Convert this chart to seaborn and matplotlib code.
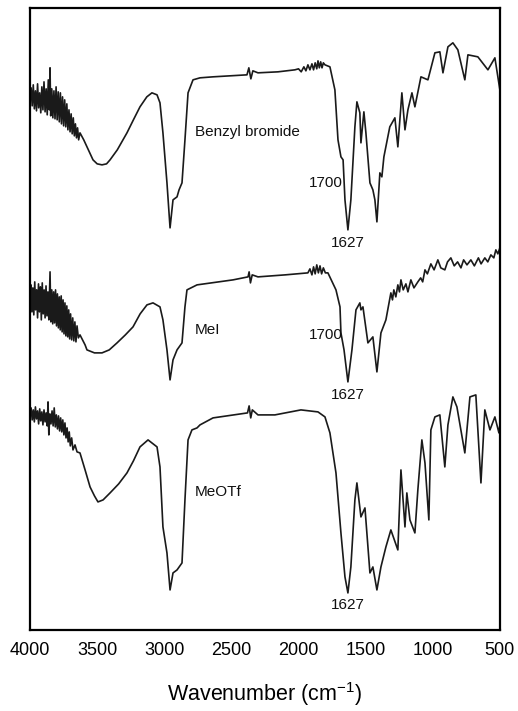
import matplotlib
matplotlib.use("Agg")
import matplotlib.pyplot as plt
import seaborn as sns
import numpy as np

# FTIR spectra, wavenumber (cm-1) vs. offset transmittance (arbitrary units)
wn_benzyl = [4000, 3992, 3984, 3976, 3968, 3960, 3952, 3944, 3936, 3928, 3920, 3912, 3904, 3896,
             3888, 3880, 3872, 3864, 3856, 3851, 3846, 3838, 3830, 3822, 3814, 3806, 3798, 3790,
             3782, 3774, 3766, 3758, 3750, 3742, 3734, 3726, 3718, 3710, 3702, 3694, 3686, 3678,
             3670, 3662, 3654, 3646, 3638, 3628, 3600, 3576, 3531, 3500, 3464, 3430, 3404, 3350,
             3278, 3230, 3181, 3130, 3092, 3054,
             3032, 3010, 2980, 2957, 2935, 2905, 2890, 2868, 2846, 2823, 2786, 2734, 2637, 2384,
             2370, 2355, 2340, 2302, 2153, 2027, 2000, 1980, 1960, 1945, 1930, 1915, 1900, 1888,
             1876, 1864, 1855, 1845, 1835, 1825, 1815, 1803, 1766, 1729, 1706, 1684, 1668, 1654,
             1632, 1610, 1580, 1565, 1543, 1535, 1513, 1498, 1468, 1446, 1431, 1416, 1394, 1379,
             1364, 1320, 1282, 1260, 1230, 1207, 1185, 1155, 1133, 1088, 1036, 984, 947, 924, 887,
             850, 813, 761, 738, 664, 589, 537, 515, 500]
t_benzyl = [532, 542, 524, 545, 521, 539, 519, 546, 522, 537, 517, 543, 520, 548,
            518, 541, 515, 550, 520, 562, 514, 541, 512, 539, 511, 543, 510, 538,
            508, 537, 506, 533, 504, 530, 503, 526, 500, 520, 498, 516, 496, 512,
            494, 506, 492, 502, 490, 497, 490, 483, 470, 466, 465, 466, 470, 480,
            497, 510, 523, 533, 537, 535,
            527, 497, 447, 402, 430, 433, 440, 447, 490, 537, 550, 552, 553, 555,
            562, 551, 559, 557, 558, 560, 561, 558, 563, 559, 565, 560, 566, 560,
            567, 561, 569, 562, 568, 562, 567, 565, 563, 540, 490, 473, 470, 430,
            400, 430, 503, 528, 517, 487, 518, 497, 447, 440, 430, 408, 457, 453,
            473, 503, 512, 483, 537, 500, 520, 537, 523, 553, 550, 577, 578, 557, 583,
            587, 580, 550, 575, 573, 560, 572, 553, 540]

wn_mei = [4000, 3993, 3986, 3979, 3972, 3965, 3958, 3951, 3944, 3937, 3930, 3923, 3916, 3909,
          3902, 3895, 3888, 3881, 3874, 3867, 3860, 3851, 3845, 3838, 3831, 3824, 3817, 3810,
          3803, 3796, 3789, 3782, 3775, 3768, 3761, 3754, 3747, 3740, 3733, 3726, 3719, 3712,
          3705, 3698, 3690, 3682, 3674, 3666, 3658, 3650, 3640, 3628, 3590, 3576, 3520, 3464,
          3410, 3352, 3290, 3233, 3180, 3129, 3084, 3032, 3010, 2980, 2957, 2935, 2905, 2868,
          2846, 2831, 2756, 2488,
          2376, 2368, 2358, 2345, 2302, 2100, 1930, 1915, 1900, 1888, 1876, 1864, 1852, 1840,
          1828, 1815, 1800, 1781, 1721, 1691, 1684, 1661, 1632, 1602, 1572, 1543, 1535, 1520,
          1483, 1446, 1416, 1386, 1349, 1312, 1300, 1290, 1275, 1260, 1248, 1237, 1220, 1200,
          1185, 1163, 1140, 1111, 1090, 1075, 1058, 1040, 1014, 990, 962, 940, 910, 890, 865,
          840, 815, 790, 770, 745, 716, 690, 660, 640, 612, 590, 567, 545, 530, 515, 500]
t_mei = [328, 345, 318, 342, 315, 348, 320, 340, 312, 346, 318, 343, 310, 347,
         316, 340, 312, 344, 314, 338, 310, 358, 308, 340, 306, 338, 307, 340,
         304, 336, 302, 333, 300, 334, 298, 330, 296, 327, 294, 324, 293, 320,
         291, 316, 290, 312, 289, 308, 288, 304, 292, 295, 285, 280, 277, 277,
         280, 287, 295, 303, 316, 325, 327, 323, 310, 280, 250, 270, 280, 287,
         323, 340, 345, 350,
         353, 358, 347, 355, 353, 355, 357, 361, 355, 363, 356, 365, 357, 364,
         356, 362, 357, 357, 340, 323, 297, 280, 248, 280, 320, 327, 320, 323,
         287, 293, 258, 297, 310, 337, 330, 340, 333, 345, 338, 350, 340, 346,
         338, 350, 342, 348, 352, 348, 360, 356, 366, 360, 370, 362, 360, 368, 372,
         364, 368, 362, 370, 365, 370, 364, 372, 366, 372, 368, 375, 372, 380, 376, 382]

wn_meotf = [4000, 3992, 3984, 3976, 3968, 3960, 3952, 3944, 3936, 3928, 3920, 3912, 3904, 3896,
            3888, 3880, 3872, 3866, 3860, 3852, 3844, 3836, 3828, 3820, 3812, 3804, 3796, 3788,
            3780, 3772, 3764, 3756, 3748, 3740, 3732, 3724, 3716, 3708, 3700, 3690, 3680, 3665,
            3650, 3628, 3590, 3553, 3520, 3494, 3456, 3404, 3340, 3278, 3230, 3181, 3121, 3054,
            3032, 3010, 2980,
            2957, 2935, 2905, 2868, 2846, 2823, 2794, 2756, 2734, 2637, 2380, 2368, 2356, 2344,
            2302, 2176, 1982, 1855, 1803, 1766, 1721, 1684, 1654, 1632, 1610, 1580, 1565, 1535,
            1505, 1468, 1446, 1416, 1386, 1349, 1312, 1260, 1237, 1207, 1193, 1170, 1133, 1111,
            1081, 1058, 1029, 1014, 984, 947, 910, 887, 850, 820, 761, 723, 679, 641, 612, 574,
            537, 507, 500]
t_meotf = [215, 222, 210, 220, 208, 223, 211, 219, 206, 221, 209, 218, 205, 220,
           208, 217, 204, 228, 195, 216, 206, 219, 204, 222, 203, 215, 201, 214,
           199, 212, 198, 210, 195, 207, 192, 202, 188, 198, 184, 192, 180, 185,
           178, 177, 160, 143, 134, 128, 130, 137, 146, 157, 169, 183, 190, 183,
           163, 103, 77,
           40, 57, 60, 67, 130, 190, 200, 202, 205, 212, 217, 224, 212, 220,
           215, 215, 220, 218, 213, 197, 157, 97, 53, 37, 63, 130, 147, 113,
           122, 57, 63, 40, 63, 83, 100, 80, 160, 103, 137, 110, 97, 140,
           190, 167, 110, 200, 213, 215, 163, 205, 233, 223, 177, 233, 235, 147, 220, 200,
           213, 197, 205]

sample_names = ["Benzyl bromide", "MeI", "MeOTf"]
x_ticks = [4000, 3500, 3000, 2500, 2000, 1500, 1000, 500]

sns.set_theme(style="white")
plt.rcParams['font.family'] = ['Liberation Sans', 'DejaVu Sans']
plt.rcParams['mathtext.fontset'] = 'custom'
plt.rcParams['mathtext.rm'] = 'Liberation Sans'

fig = plt.figure(figsize=(5.18, 7.11), dpi=100)
ax = fig.add_axes([0.058, 0.114, 0.907, 0.875])

for wn, t in [(wn_benzyl, t_benzyl), (wn_mei, t_mei), (wn_meotf, t_meotf)]:
    sns.lineplot(x=wn, y=t, ax=ax, sort=False, estimator=None, color="#1a1a1a", lw=1.2)

ax.set_xlim(4000, 500)
ax.set_ylim(0, 622)
ax.set_xticks(x_ticks)
ax.set_xticklabels([str(v) for v in x_ticks], fontsize=13)
ax.set_yticks([])
ax.tick_params(axis='x', direction='in', length=6, width=1.6, pad=9, colors='black')
for s in ax.spines.values():
    s.set_linewidth(1.6)
    s.set_color('black')
ax.set_xlabel("Wavenumber (cm$^{-1}$)", fontsize=15.5, labelpad=15, color='black')
ax.set_ylabel("")

# sample labels and peak annotations
lab_y = [498, 300, 138]
for name, y in zip(sample_names, lab_y):
    ax.text(2771, y, name, fontsize=11, ha='left', va='center', color='#111')
for y in [447, 295]:
    ax.text(1669, y, "1700", fontsize=11, ha='right', va='center', color='#111')
for y in [387, 235, 25]:
    ax.text(1632, y, "1627", fontsize=11, ha='center', va='center', color='#111')

fig.savefig("out.png", dpi=100)
